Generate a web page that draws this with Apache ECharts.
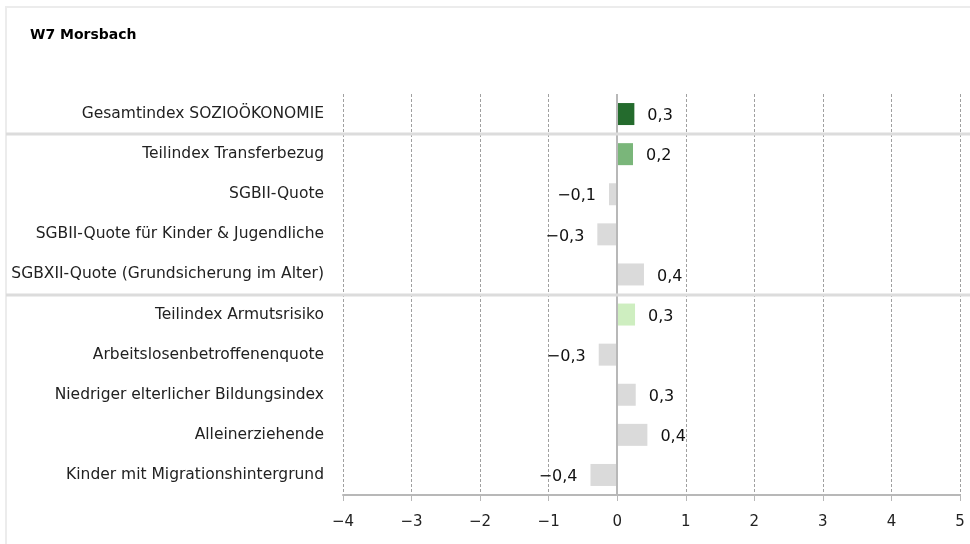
<!DOCTYPE html>
<html>
<head>
<meta charset="utf-8">
<script src="https://cdn.jsdelivr.net/npm/echarts@6/dist/echarts.min.js"></script>
<style>
html,body{margin:0;padding:0;background:#fff;}
#chart{width:970px;height:544px;}
</style>
</head>
<body>
<div id="chart"></div>
<script>
var titleText = 'W7 Morsbach';
var categories = [
  'Gesamtindex SOZIOÖKONOMIE',
  'Teilindex Transferbezug',
  'SGBII-Quote',
  'SGBII-Quote für Kinder & Jugendliche',
  'SGBXII-Quote (Grundsicherung im Alter)',
  'Teilindex Armutsrisiko',
  'Arbeitslosenbetroffenenquote',
  'Niedriger elterlicher Bildungsindex',
  'Alleinerziehende',
  'Kinder mit Migrationshintergrund'
];
var values = [0.25, 0.23, -0.12, -0.29, 0.39, 0.26, -0.27, 0.27, 0.44, -0.39];
var barColors = ['#246b2d', '#7ab67a', '#dadada', '#dadada', '#dadada', '#ceeec0', '#dadada', '#dadada', '#dadada', '#dadada'];
var xTicks = [-4, -3, -2, -1, 0, 1, 2, 3, 4, 5];
var groupBreaks = [1, 5]; // separator before these category indices

var FONT = 'DejaVu Sans';
function fmt(v) {
  var r = Math.round(v * 10) / 10;
  var s = Math.abs(r).toFixed(1).replace('.', ',');
  return (r < 0 ? '\u2212' : '') + s;
}

var chart = echarts.init(document.getElementById('chart'));
var data = values.map(function (v, i) {
  return {
    value: v,
    itemStyle: { color: barColors[i] },
    label: { position: v < 0 ? 'left' : 'right' }
  };
});

chart.setOption({
  animation: false,
  textStyle: { fontFamily: FONT },
  title: {
    text: titleText, left: 25, top: 23,
    textStyle: { fontFamily: FONT, fontSize: 14, fontWeight: 'bold', color: '#000' }
  },
  grid: { left: 343, right: 10, top: 94, height: 401, containLabel: false },
  xAxis: {
    type: 'value', min: xTicks[0], max: xTicks[xTicks.length - 1], interval: 1,
    axisLine: { show: true, lineStyle: { color: '#b8b8b8', width: 2 } },
    axisTick: { show: true, length: 6, lineStyle: { color: '#b8b8b8' } },
    axisLabel: {
      margin: 20, color: '#222', fontSize: 15, fontFamily: FONT,
      formatter: function (v) { return (v < 0 ? '\u2212' : '') + Math.abs(v); }
    },
    splitLine: { show: true, lineStyle: { color: '#a0a0a0', type: [3, 2], width: 1 } }
  },
  yAxis: {
    type: 'category', data: categories, inverse: true,
    axisLine: { show: false, onZero: false },
    axisTick: { show: false },
    axisLabel: { margin: 19, color: '#222', fontSize: 15.5, fontFamily: FONT },
    splitLine: { show: false }
  },
  series: [{
    type: 'bar', data: data, barWidth: 22,
    label: {
      show: true, distance: 13, offset: [0, 2], color: '#111', fontSize: 16, fontFamily: FONT,
      formatter: function (p) { return fmt(p.value); }
    },
    markLine: {
      silent: true, symbol: 'none', label: { show: false },
      lineStyle: { color: '#b8b8b8', type: 'solid', width: 2 },
      data: [{ xAxis: 0 }]
    }
  }]
});

// decorations: frame and group separators (positions from the axis scale)
var gfx = [{
  type: 'rect', shape: { x: 6, y: 7, width: 980, height: 560 },
  style: { fill: null, stroke: '#ececec', lineWidth: 2 }, silent: true
}];
groupBreaks.forEach(function (idx) {
  var a = chart.convertToPixel({ yAxisIndex: 0 }, idx - 1);
  var b = chart.convertToPixel({ yAxisIndex: 0 }, idx);
  var y = Math.round((a + b) / 2);
  gfx.push({
    type: 'line', shape: { x1: 6, y1: y, x2: 970, y2: y },
    style: { stroke: '#dcdcdc', lineWidth: 3 }, silent: true, z: 10
  });
});
chart.setOption({ graphic: gfx });
</script>
</body>
</html>
